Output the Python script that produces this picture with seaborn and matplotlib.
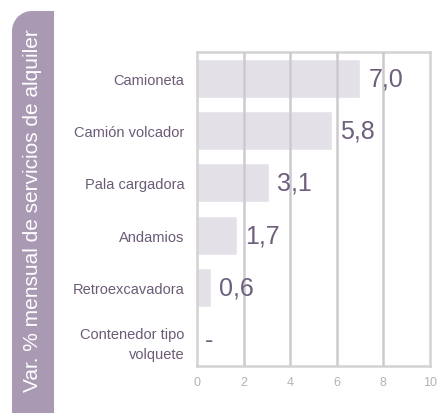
import matplotlib
matplotlib.use("Agg")
import matplotlib.pyplot as plt
import seaborn as sns
import pandas as pd
from matplotlib.patches import Ellipse, Rectangle

# data
categorias = ['Camioneta', 'Camión volcador', 'Pala cargadora', 'Andamios',
              'Retroexcavadora', 'Contenedor tipo\nvolquete']
valores = [7.0, 5.8, 3.1, 1.7, 0.6, 0.0]
etiquetas = ['7,0', '5,8', '3,1', '1,7', '0,6', '-']
ticks_x = [0, 2, 4, 6, 8, 10]

df = pd.DataFrame({'cat': categorias, 'val': valores})

sns.set_style('white')
plt.rcParams['font.family'] = ['Liberation Sans', 'DejaVu Sans']

fig = plt.figure(figsize=(4.4, 4.14), dpi=100)
ax = fig.add_axes([197 / 440, 1 - 367 / 414, 233 / 440, 314 / 414])

sns.barplot(data=df, y='cat', x='val', orient='h', color='#e4e0e8',
            saturation=1, width=0.74, ax=ax, zorder=1)

ax.set_xlim(0, 10)
ax.set_xticks(ticks_x)
ax.set_xlabel('')
ax.set_ylabel('')

# grid drawn over the bars
for t in ticks_x[1:-1]:
    ax.axvline(t, color='#cdcacf', lw=1.8, zorder=3)

for s in ax.spines.values():
    s.set_color('#d2d2d2')
    s.set_linewidth(1.8)

ax.tick_params(axis='y', length=0, pad=9, labelsize=10.5, labelcolor='#6b5b76')
ax.tick_params(axis='x', length=0, pad=7, labelsize=9, labelcolor='#b3b3b3')
for lab in ax.get_yticklabels():
    lab.set_horizontalalignment('right')
    lab.set_multialignment('right')
    lab.set_linespacing(1.5)

# value labels
for i, (v, e) in enumerate(zip(valores, etiquetas)):
    ax.text(v + 0.35, i, e, va='center', ha='left', fontsize=18,
            color='#6e5f7c', zorder=4)

# side band with the title, only top-left corner rounded
banda = '#a999b3'
W, H = 440, 414
x0, x1, top, r = 12, 54, 12, 20
fig.add_artist(Rectangle(((x0 + r) / W, 0), (x1 - x0 - r) / W, 1 - top / H,
                         transform=fig.transFigure, facecolor=banda,
                         edgecolor='none'))
fig.add_artist(Rectangle((x0 / W, 0), (x1 - x0) / W, 1 - (top + r) / H,
                         transform=fig.transFigure, facecolor=banda,
                         edgecolor='none'))
fig.add_artist(Ellipse(((x0 + r) / W, 1 - (top + r) / H), 2 * r / W, 2 * r / H,
                       transform=fig.transFigure, facecolor=banda,
                       edgecolor='none'))
fig.text(33 / W, 1 - 211 / H, 'Var. % mensual de servicios de alquiler',
         rotation=90, ha='center', va='center', color='white', fontsize=15)

fig.savefig('out.png', dpi=100)
